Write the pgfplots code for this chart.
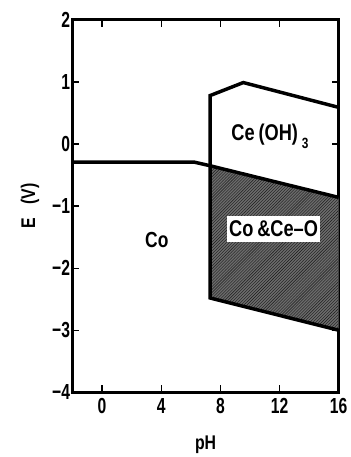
\documentclass[border=0pt]{standalone}
\usepackage{pgfplots}
\pgfplotsset{compat=1.18}
\usepackage{fontspec}
\setmainfont[FakeStretch=0.8]{Liberation Sans}
\newfontfamily\condA[FakeStretch=0.72]{Liberation Sans Bold}
\newfontfamily\condB[FakeStretch=0.8]{Liberation Sans Bold}
\usetikzlibrary{patterns,calc}
\begin{document}
\begin{tikzpicture}
\begin{axis}[
  name=main,
  scale only axis, width=268bp, height=375bp,
  xmin=-2, xmax=16, ymin=-4, ymax=2,
  xtick={0,4,8,12,16},
  ytick={-4,-3,-2,-1,0,1,2},
  yticklabels={−4,−3,−2,−1,0,1,2},
  tick align=inside, major tick length=7bp,
  axis line style={line width=2.8bp},
  every tick/.style={line width=1.2bp, black},
  /pgf/number format/assume math mode=true,
  ticklabel style={font=\condA\fontsize{22}{24}\selectfont},
  xticklabel style={yshift=-3bp},
  yticklabel style={xshift=1bp},
  label style={font=\condB\fontsize{20}{22}\selectfont},
  xlabel={pH}, ylabel={E\ \ \ (V)},
  xlabel style={at={(axis description cs:0.5,-0.141)}, anchor=center},
  ylabel style={at={(axis description cs:-0.16,0.5)}, anchor=center},
  clip=false,
]
\addplot[draw=none, fill=black!58] coordinates {(7.3,-0.35) (16,-0.86) (16,-3.0) (7.3,-2.48) (7.3,-0.35)};
\addplot[draw=none, pattern=north east lines, pattern color=black!90] coordinates {(7.3,-0.35) (16,-0.86) (16,-3.0) (7.3,-2.48) (7.3,-0.35)};
\addplot[black, line width=3.5bp] coordinates {(-2,-0.29) (6.2,-0.29) (7.3,-0.35) (16,-0.86)};
\addplot[black, line width=3.5bp] coordinates {(16,0.59) (9.55,0.99) (7.3,0.78) (7.3,-2.48) (16,-3.0)};
\node[font=\condB\fontsize{22}{24}\selectfont] at (axis cs:3.7,-1.55) {Co};
\node[font=\condB\fontsize{23}{24}\selectfont] at (axis cs:11.35,0.12) {Ce\,(OH)\,\raisebox{-8bp}{\fontsize{15}{15}\selectfont 3}};
\node[font=\condB\fontsize{23}{24}\selectfont, fill=white, inner xsep=2bp, inner ysep=5bp] at (axis cs:11.6,-1.37) {Co\,\&Ce–O};
\end{axis}
\path ($(main.south west)+(-73bp,-62bp)$) rectangle ($(main.north east)+(12bp,20bp)$);
\end{tikzpicture}
\end{document}
